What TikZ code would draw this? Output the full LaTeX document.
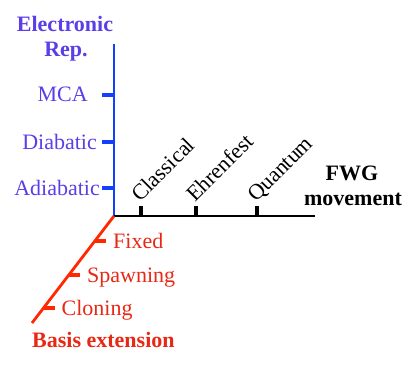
\documentclass[tikz,border=0pt]{standalone}
\usepackage{fontspec}
\setmainfont{Liberation Serif}
\usepackage{xcolor}
\usetikzlibrary{calc}
\definecolor{elec}{RGB}{92,62,232}
\definecolor{elecax}{RGB}{18,64,255}
\definecolor{basis}{RGB}{232,40,20}
\definecolor{basisax}{RGB}{255,40,0}
\tikzset{
    axis/.style={line width=2.8pt},
    tick/.style={line width=4pt},
    lbl/.style={inner sep=0pt, font=\fontsize{22}{24}\selectfont},
    ttl/.style={lbl, font=\fontsize{22}{24}\selectfont\bfseries},
    mv/.style={lbl, rotate=45, anchor=base west}
}

\begin{document}
\begin{tikzpicture}[x=1pt, y=1pt]
        \useasboundingbox (0,0) rectangle (415,365);
        % axes
        \coordinate (o) at (114,149);
        \coordinate (etop) at (114,321);
        \coordinate (fend) at (315,149);
        \coordinate (bend) at (32,42);
        \draw[axis, elecax] (o) -- (etop);
        \draw[axis, black] (o) -- (fend);
        \draw[axis, basisax] (o) -- (bend);

        % electronic representation
        \node[ttl, elec, anchor=base] (eltitle) at (65,333.5) {Electronic};
        \node[ttl, elec, anchor=base] (eltitle2) at (66,308) {Rep.};
        \foreach \nm/\yy/\xx/\txt in {mca/270/88/MCA, dia/223/97/Diabatic, adia/177/100/Adiabatic} {
            \coordinate (\nm) at (114,\yy);
            \draw[tick, elecax] (\nm) -- ++(-12,0);
            \node[lbl, elec, anchor=base east] (\nm t) at (\xx,\yy-7) {\txt};
        }

        % FWG movement
        \foreach \nm/\xx/\txt in {cl/141/Classical, eh/196/Ehrenfest, qu/257/Quantum} {
            \coordinate (\nm) at (\xx,149);
            \draw[tick, black] (\nm) -- ++(0,10);
            \node[mv] (\nm t) at (\xx-1,162) {\txt};
        }
        \node[ttl, anchor=base] (fwg) at (352,185) {FWG};
        \node[ttl, anchor=base] (fwg2) at (353,160) {movement};

        % basis extension
        \foreach \nm/\xx/\yy/\txt in {fx/95/124/Fixed, sp/69/90/Spawning, cn/43.5/57/Cloning} {
            \coordinate (\nm) at (\xx,\yy);
            \draw[tick, basisax] (\nm) -- ++(11,0);
            \node[lbl, basis, anchor=base west] (\nm t) at (\xx+18,\yy-7) {\txt};
        }
        \node[ttl, basis, anchor=base west] (bastitle) at (32,18) {Basis extension};
    \end{tikzpicture}
\end{document}
